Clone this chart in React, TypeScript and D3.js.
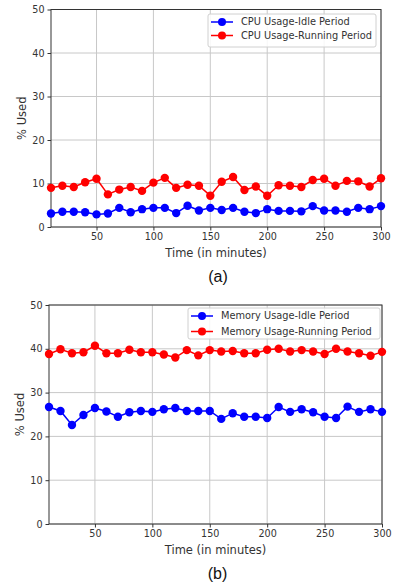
import { useEffect, useRef } from "react";
import * as d3 from "d3";

const times = [10, 20, 30, 40, 50, 60, 70, 80, 90, 100, 110, 120, 130, 140, 150, 160, 170, 180, 190, 200, 210, 220, 230, 240, 250, 260, 270, 280, 290, 300];

const cpuIdle = [3.1, 3.5, 3.5, 3.4, 2.9, 3.1, 4.4, 3.4, 4.1, 4.4, 4.4, 3.2, 4.9, 3.8, 4.4, 3.9, 4.4, 3.5, 3.2, 4.1, 3.7, 3.7, 3.6, 4.8, 3.8, 3.8, 3.5, 4.4, 4.1, 4.8];
const cpuRunning = [9.0, 9.5, 9.2, 10.3, 11.1, 7.5, 8.6, 9.2, 8.3, 10.2, 11.3, 9.0, 9.7, 9.5, 7.2, 10.4, 11.5, 8.5, 9.3, 7.2, 9.6, 9.5, 9.2, 10.8, 11.1, 9.5, 10.6, 10.5, 9.3, 11.2];

const memIdle = [26.7, 25.8, 22.6, 24.9, 26.5, 25.7, 24.5, 25.5, 25.8, 25.6, 26.2, 26.5, 25.8, 25.8, 25.8, 24.0, 25.3, 24.5, 24.5, 24.2, 26.7, 25.6, 26.2, 25.5, 24.5, 24.2, 26.8, 25.6, 26.2, 25.6];
const memRunning = [38.8, 39.9, 39.0, 39.2, 40.7, 39.0, 39.0, 39.8, 39.2, 39.2, 38.7, 38.0, 39.7, 38.5, 39.7, 39.4, 39.5, 39.0, 39.0, 39.8, 40.0, 39.4, 39.7, 39.4, 38.8, 40.0, 39.4, 39.0, 38.4, 39.3];

const xTicks = [50, 100, 150, 200, 250, 300];
const yTicks = [0, 10, 20, 30, 40, 50];

const cpuLabels = ["CPU Usage-Idle Period", "CPU Usage-Running Period"];
const memLabels = ["Memory Usage-Idle Period", "Memory Usage-Running Period"];

const font = "'DejaVu Sans', sans-serif";

function drawPanel(
  g: d3.Selection<SVGGElement, unknown, null, undefined>,
  box: { left: number; right: number; top: number; bottom: number },
  idle: number[],
  running: number[],
  labels: string[],
  legend: { x: number; y: number; w: number; h: number; gap: number },
  caption: string
) {
  const x = d3.scaleLinear().domain([10, 300]).range([box.left, box.right]);
  const y = d3.scaleLinear().domain([0, 50]).range([box.bottom, box.top]);

  // grid
  g.selectAll(".gx").data(xTicks).enter().append("line")
    .attr("x1", (d) => x(d)).attr("x2", (d) => x(d))
    .attr("y1", box.top).attr("y2", box.bottom)
    .attr("stroke", "#c8c8c8").attr("stroke-width", 1);
  g.selectAll(".gy").data(yTicks).enter().append("line")
    .attr("x1", box.left).attr("x2", box.right)
    .attr("y1", (d) => y(d)).attr("y2", (d) => y(d))
    .attr("stroke", "#c8c8c8").attr("stroke-width", 1);

  // axes
  const xAxis = g.append("g").attr("transform", `translate(0,${box.bottom})`)
    .call(d3.axisBottom(x).tickValues(xTicks).tickSize(3.5).tickPadding(3));
  const yAxis = g.append("g").attr("transform", `translate(${box.left},0)`)
    .call(d3.axisLeft(y).tickValues(yTicks).tickSize(3.5).tickPadding(3));
  [xAxis, yAxis].forEach((a) => {
    a.select(".domain").remove();
    a.selectAll("text").attr("font-family", font).attr("font-size", 9.6).attr("fill", "#333");
    a.selectAll("line").attr("stroke", "#333");
  });

  g.append("rect")
    .attr("x", box.left).attr("y", box.top)
    .attr("width", box.right - box.left).attr("height", box.bottom - box.top)
    .attr("fill", "none").attr("stroke", "#333").attr("stroke-width", 1);

  const series = [
    { vals: idle, color: "#0000ff" },
    { vals: running, color: "#ff0000" },
  ];
  const line = d3.line<number>().x((_, i) => x(times[i])).y((d) => y(d));
  series.forEach((s) => {
    g.append("path").attr("d", line(s.vals)).attr("fill", "none")
      .attr("stroke", s.color).attr("stroke-width", 1.5);
    g.selectAll(null).data(s.vals).enter().append("circle")
      .attr("cx", (_, i) => x(times[i])).attr("cy", (d) => y(d))
      .attr("r", 4.2).attr("fill", s.color);
  });

  // legend
  const lg = g.append("g");
  lg.append("rect").attr("x", legend.x).attr("y", legend.y)
    .attr("width", legend.w).attr("height", legend.h).attr("rx", 2)
    .attr("fill", "white").attr("fill-opacity", 0.85)
    .attr("stroke", "#d0d0d0");
  series.forEach((s, i) => {
    const cy = legend.y + 8 + i * legend.gap;
    lg.append("line").attr("x1", legend.x + 3).attr("x2", legend.x + 25)
      .attr("y1", cy).attr("y2", cy).attr("stroke", s.color).attr("stroke-width", 1.5);
    lg.append("circle").attr("cx", legend.x + 14).attr("cy", cy).attr("r", 4).attr("fill", s.color);
    lg.append("text").attr("x", legend.x + 33).attr("y", cy).attr("dy", "0.35em")
      .attr("font-family", font).attr("font-size", 9.8).attr("fill", "#333")
      .text(labels[i]);
  });

  // labels
  g.append("text").attr("x", (box.left + box.right) / 2).attr("y", box.bottom + 30)
    .attr("text-anchor", "middle").attr("font-family", font).attr("font-size", 11.5)
    .attr("fill", "#333").text("Time (in minutes)");
  g.append("text")
    .attr("transform", `translate(${box.left - 25},${(box.top + box.bottom) / 2}) rotate(-90)`)
    .attr("text-anchor", "middle").attr("font-family", font).attr("font-size", 11.5)
    .attr("fill", "#333").text("% Used");
  g.append("text").attr("x", (box.left + box.right) / 2 + 2).attr("y", box.bottom + 55)
    .attr("text-anchor", "middle").attr("font-family", "'Liberation Sans', Arial, sans-serif")
    .attr("font-size", 16).attr("fill", "#111").text(caption);
}

export default function App() {
  const ref = useRef<SVGSVGElement | null>(null);

  useEffect(() => {
    if (!ref.current) return;
    const svg = d3.select(ref.current);
    svg.selectAll("*").remove();
    svg.append("rect").attr("width", 393).attr("height", 587).attr("fill", "white");
    drawPanel(svg.append("g"), { left: 51, right: 381, top: 9.5, bottom: 227 },
      cpuIdle, cpuRunning, cpuLabels, { x: 208, y: 14, w: 168, h: 33, gap: 13.5 }, "(a)");
    drawPanel(svg.append("g"), { left: 49, right: 382, top: 305, bottom: 524 },
      memIdle, memRunning, memLabels, { x: 188, y: 308, w: 192, h: 31, gap: 15.5 }, "(b)");
  }, []);

  return (
    <svg ref={ref} width={393} height={587}
      style={{ position: "absolute", left: 0, top: 0, display: "block" }} />
  );
}
